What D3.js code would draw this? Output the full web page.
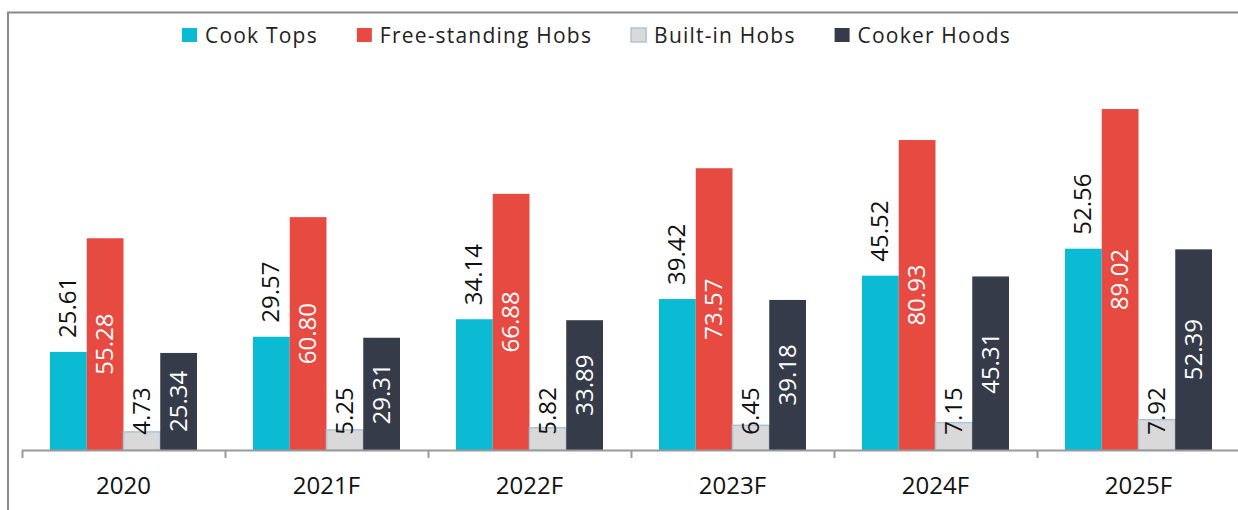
<meta charset="utf-8" />
<script src="https://d3js.org/d3.v7.min.js"></script>
<style>
  body { margin: 0; background: #fff; }
  text { font-family: 'Open Sans', 'Noto Sans', sans-serif; }
</style>
<div id="chart"></div>
<script>
  const years = ['2020', '2021F', '2022F', '2023F', '2024F', '2025F'];
  const seriesNames = ['Cook Tops', 'Free-standing Hobs', 'Built-in Hobs', 'Cooker Hoods'];
  const cookTops = [25.61, 29.57, 34.14, 39.42, 45.52, 52.56];
  const freeHobs = [55.28, 60.8, 66.88, 73.57, 80.93, 89.02];
  const builtInHobs = [4.73, 5.25, 5.82, 6.45, 7.15, 7.92];
  const cookerHoods = [25.34, 29.31, 33.89, 39.18, 45.31, 52.39];

  const colors = ['#0bbbd4', '#e64a40', '#d9d9d9', '#353b48'];
  const labelColors = ['#111', '#fff', '#111', '#fff'];
  // 'out' = above the bar, 'mid' = centred inside, 'fix' = fixed near the base
  const labelPos = ['out', 'mid', 'fix', 'mid'];

  const width = 1238, height = 510;
  const allSeries = [cookTops, freeHobs, builtInHobs, cookerHoods];

  const svg = d3.select('#chart').append('svg')
    .attr('width', width).attr('height', height);

  // frame
  svg.append('path')
    .attr('d', `M8,${height} L8,12.5 L${width},12.5`)
    .attr('fill', 'none').attr('stroke', '#8a8a8a').attr('stroke-width', 2);

  const x0 = d3.scaleBand().domain(years).range([22, 1240]);
  const x1 = d3.scaleBand().domain(d3.range(4)).range([28, 175]);
  const y = d3.scaleLinear().domain([0, 100]).range([450, 67]);

  const rows = years.map((yr, i) => ({
    year: yr,
    vals: allSeries.map((s, k) => ({ k: k, v: s[i] }))
  }));

  const groups = svg.append('g').selectAll('g')
    .data(rows).join('g')
    .attr('transform', (d) => `translate(${x0(d.year)},0)`);

  groups.selectAll('rect')
    .data((d) => d.vals).join('rect')
    .attr('x', (d) => x1(d.k))
    .attr('width', x1.bandwidth())
    .attr('y', (d) => y(d.v))
    .attr('height', (d) => y(0) - y(d.v))
    .attr('fill', (d) => colors[d.k])
    .attr('stroke', (d) => (d.k == 2 ? '#a9c6d6' : 'none'))
    .attr('stroke-width', 1.5);

  groups.selectAll('text')
    .data((d) => d.vals).join('text')
    .attr('transform', function (d) {
      const cx = x1(d.k) + x1.bandwidth() / 2 + 8;
      let cy;
      if (labelPos[d.k] == 'out') cy = y(d.v) - 14;
      else if (labelPos[d.k] == 'mid') cy = (y(d.v) + y(0)) / 2;
      else cy = y(0) - 39;
      return `translate(${cx},${cy}) rotate(-90)`;
    })
    .attr('text-anchor', (d) => (labelPos[d.k] == 'out' ? 'start' : 'middle'))
    .attr('font-size', 24)
    .attr('fill', (d) => labelColors[d.k])
    .text((d) => d.v.toFixed(2));

  // axis
  const axis = svg.append('g');
  axis.append('line')
    .attr('x1', 22).attr('x2', width)
    .attr('y1', y(0) + 0.5).attr('y2', y(0) + 0.5)
    .attr('stroke', '#9a9a9a').attr('stroke-width', 2);
  axis.selectAll('.tick')
    .data(years).join('line')
    .attr('x1', (d) => x0(d) + 0.5).attr('x2', (d) => x0(d) + 0.5)
    .attr('y1', y(0)).attr('y2', y(0) + 8)
    .attr('stroke', '#9a9a9a').attr('stroke-width', 2);
  axis.selectAll('.lbl')
    .data(years).join('text')
    .attr('x', (d) => x0(d) + x0.bandwidth() / 2)
    .attr('y', 494)
    .attr('text-anchor', 'middle')
    .attr('font-size', 24)
    .attr('fill', '#111')
    .text((d) => d);

  // legend
  const legend = svg.append('g');
  let lx = 182;
  seriesNames.forEach(function (name, k) {
    legend.append('rect')
      .attr('x', lx).attr('y', 28).attr('width', 15).attr('height', 14)
      .attr('fill', colors[k])
      .attr('stroke', k == 2 ? '#a9c6d6' : 'none').attr('stroke-width', 1.5);
    const t = legend.append('text')
      .attr('x', lx + 23).attr('y', 42.5)
      .attr('font-size', 21).attr('letter-spacing', 1.2).attr('fill', '#222')
      .text(name);
    lx += 23 + t.node().getComputedTextLength() + 39;
  });
</script>
